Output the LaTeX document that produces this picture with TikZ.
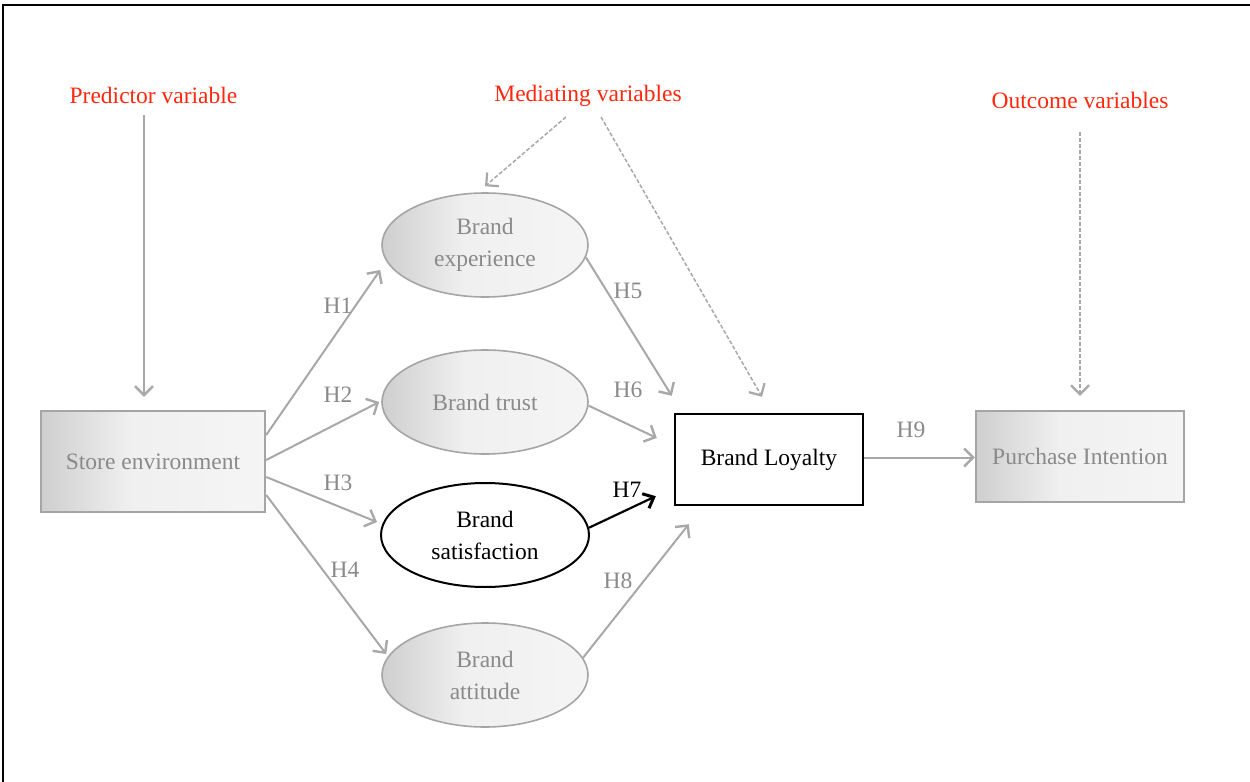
\documentclass[tikz,border=0pt]{standalone}
\usepackage{fontspec}
\setmainfont{Liberation Serif}
\usetikzlibrary{shapes.geometric,arrows.meta}
\definecolor{labelred}{RGB}{255,40,15}
\definecolor{arrowgray}{RGB}{168,168,168}
\definecolor{textgray}{RGB}{138,138,138}
\definecolor{bordergray}{RGB}{165,165,165}
% left-to-right fade used for the grey shapes: dark at the left edge, light from about 40%
\pgfdeclarehorizontalshading{fadebox}{100bp}{color(0bp)=(black!19); color(25bp)=(black!19); color(45bp)=(black!6); color(75bp)=(black!4); color(100bp)=(black!4)}

\begin{document}
\begin{tikzpicture}[x=0.5pt,y=-0.5pt,
  every node/.style={font=\fontsize{11.75}{16}\selectfont, inner sep=0pt, align=center},
  heading/.style={text=labelred},
  hlabel/.style={text=textgray},
  varbox/.style={rectangle, draw=bordergray, line width=1.2pt,
    shading=fadebox, text=textgray, minimum width=112pt, minimum height=50.5pt},
  latent/.style={ellipse, draw=bordergray, line width=0.8pt,
    shading=fadebox, text=textgray, minimum width=103pt, minimum height=52pt},
  focus/.style={ellipse, draw=black, line width=1pt, fill=white,
    text=black, minimum width=104pt, minimum height=52pt},
  keybox/.style={rectangle, draw=black, line width=1.2pt, fill=white,
    text=black, minimum width=94pt, minimum height=45.5pt},
  link/.style={draw=arrowgray, line width=1pt,
    -{Straight Barb[length=4.5pt,width=9pt,line width=1.2pt]}},
  keylink/.style={draw=black, line width=1.1pt,
    -{Straight Barb[length=4.5pt,width=8pt,line width=1.5pt]}},
  cue/.style={draw=arrowgray, line width=0.75pt, dash pattern=on 2pt off 1pt,
    -{Straight Barb[length=4.5pt,width=9pt,line width=1.1pt]}}
]
\useasboundingbox (0,0) rectangle (1250,782);

% frame
\draw[line width=1pt] (1250,4.5) -- (3,4.5);
\draw[line width=0.8pt] (3,4) -- (3,782);

% group headings
\node[heading] (pv) at (153.5,95) {Predictor variable};
\node[heading] (mv) at (588,96) {Mediating variables};
\node[heading] (ov) at (1080,100) {Outcome variables};

% variables
\node[varbox] (se) at (153,461.5) {Store environment};
\node[latent] (be) at (485,245) {Brand\\experience};
\node[latent] (bt) at (485,402) {Brand trust};
\node[focus]  (bs) at (485,535) {Brand\\satisfaction};
\node[latent] (ba) at (485,675) {Brand\\attitude};
\node[keybox] (bl) at (769,459.5) {Brand Loyalty};
\node[varbox, minimum width=104pt, minimum height=45.5pt] (pi) at (1080,456.5) {Purchase Intention};

% heading pointers
\draw[link] ([shift={(-9.5,20)}]pv.center) -- ([shift={(-9,-13)}]se.north);
\draw[cue] ([shift={(-22,21)}]mv.center) -- ([shift={(0,-6)}]be.north);
\draw[cue] ([shift={(13,21)}]mv.center) -- ([shift={(-7,-16)}]bl.north);
\draw[cue] ([shift={(0,32)}]ov.center) -- ([shift={(0,-14)}]pi.north);

% hypotheses H1-H4
\draw[link] ([shift={(0,-26.5)}]se.east) -- ([shift={(-1,25)}]be.west);
\draw[link] ([shift={(0,-1.5)}]se.east) -- ([shift={(-2,0)}]bt.west);
\draw[link] ([shift={(0,15.5)}]se.east) -- ([shift={(-3,-13)}]bs.west);
\draw[link] ([shift={(0,33.5)}]se.east) -- ([shift={(5,-21)}]ba.west);

% hypotheses H5-H8
\draw[link] (be.-7) -- ([shift={(-2,-17)}]bl.north west);
\draw[link] (bt.-2) -- ([shift={(-17,-21.5)}]bl.west);
\draw[keylink] (bs.4.5) -- ([shift={(-18,-10)}]bl.south west);
\draw[link] (ba.10.5) -- ([shift={(15,18)}]bl.south west);

% hypothesis H9
\draw[link] ([shift={(0,-2)}]bl.east) -- ([shift={(0,1)}]pi.west);

% hypothesis labels
\node[hlabel] (h1) at (338,306) {H1};
\node[hlabel] (h2) at (338,395) {H2};
\node[hlabel] (h3) at (338,483) {H3};
\node[hlabel] (h4) at (345,570) {H4};
\node[hlabel] (h5) at (628,291) {H5};
\node[hlabel] (h6) at (628,390) {H6};
\node (h7) at (627,490) {H7};
\node[hlabel] (h8) at (618,581) {H8};
\node[hlabel] (h9) at (911,430) {H9};
\end{tikzpicture}
\end{document}
